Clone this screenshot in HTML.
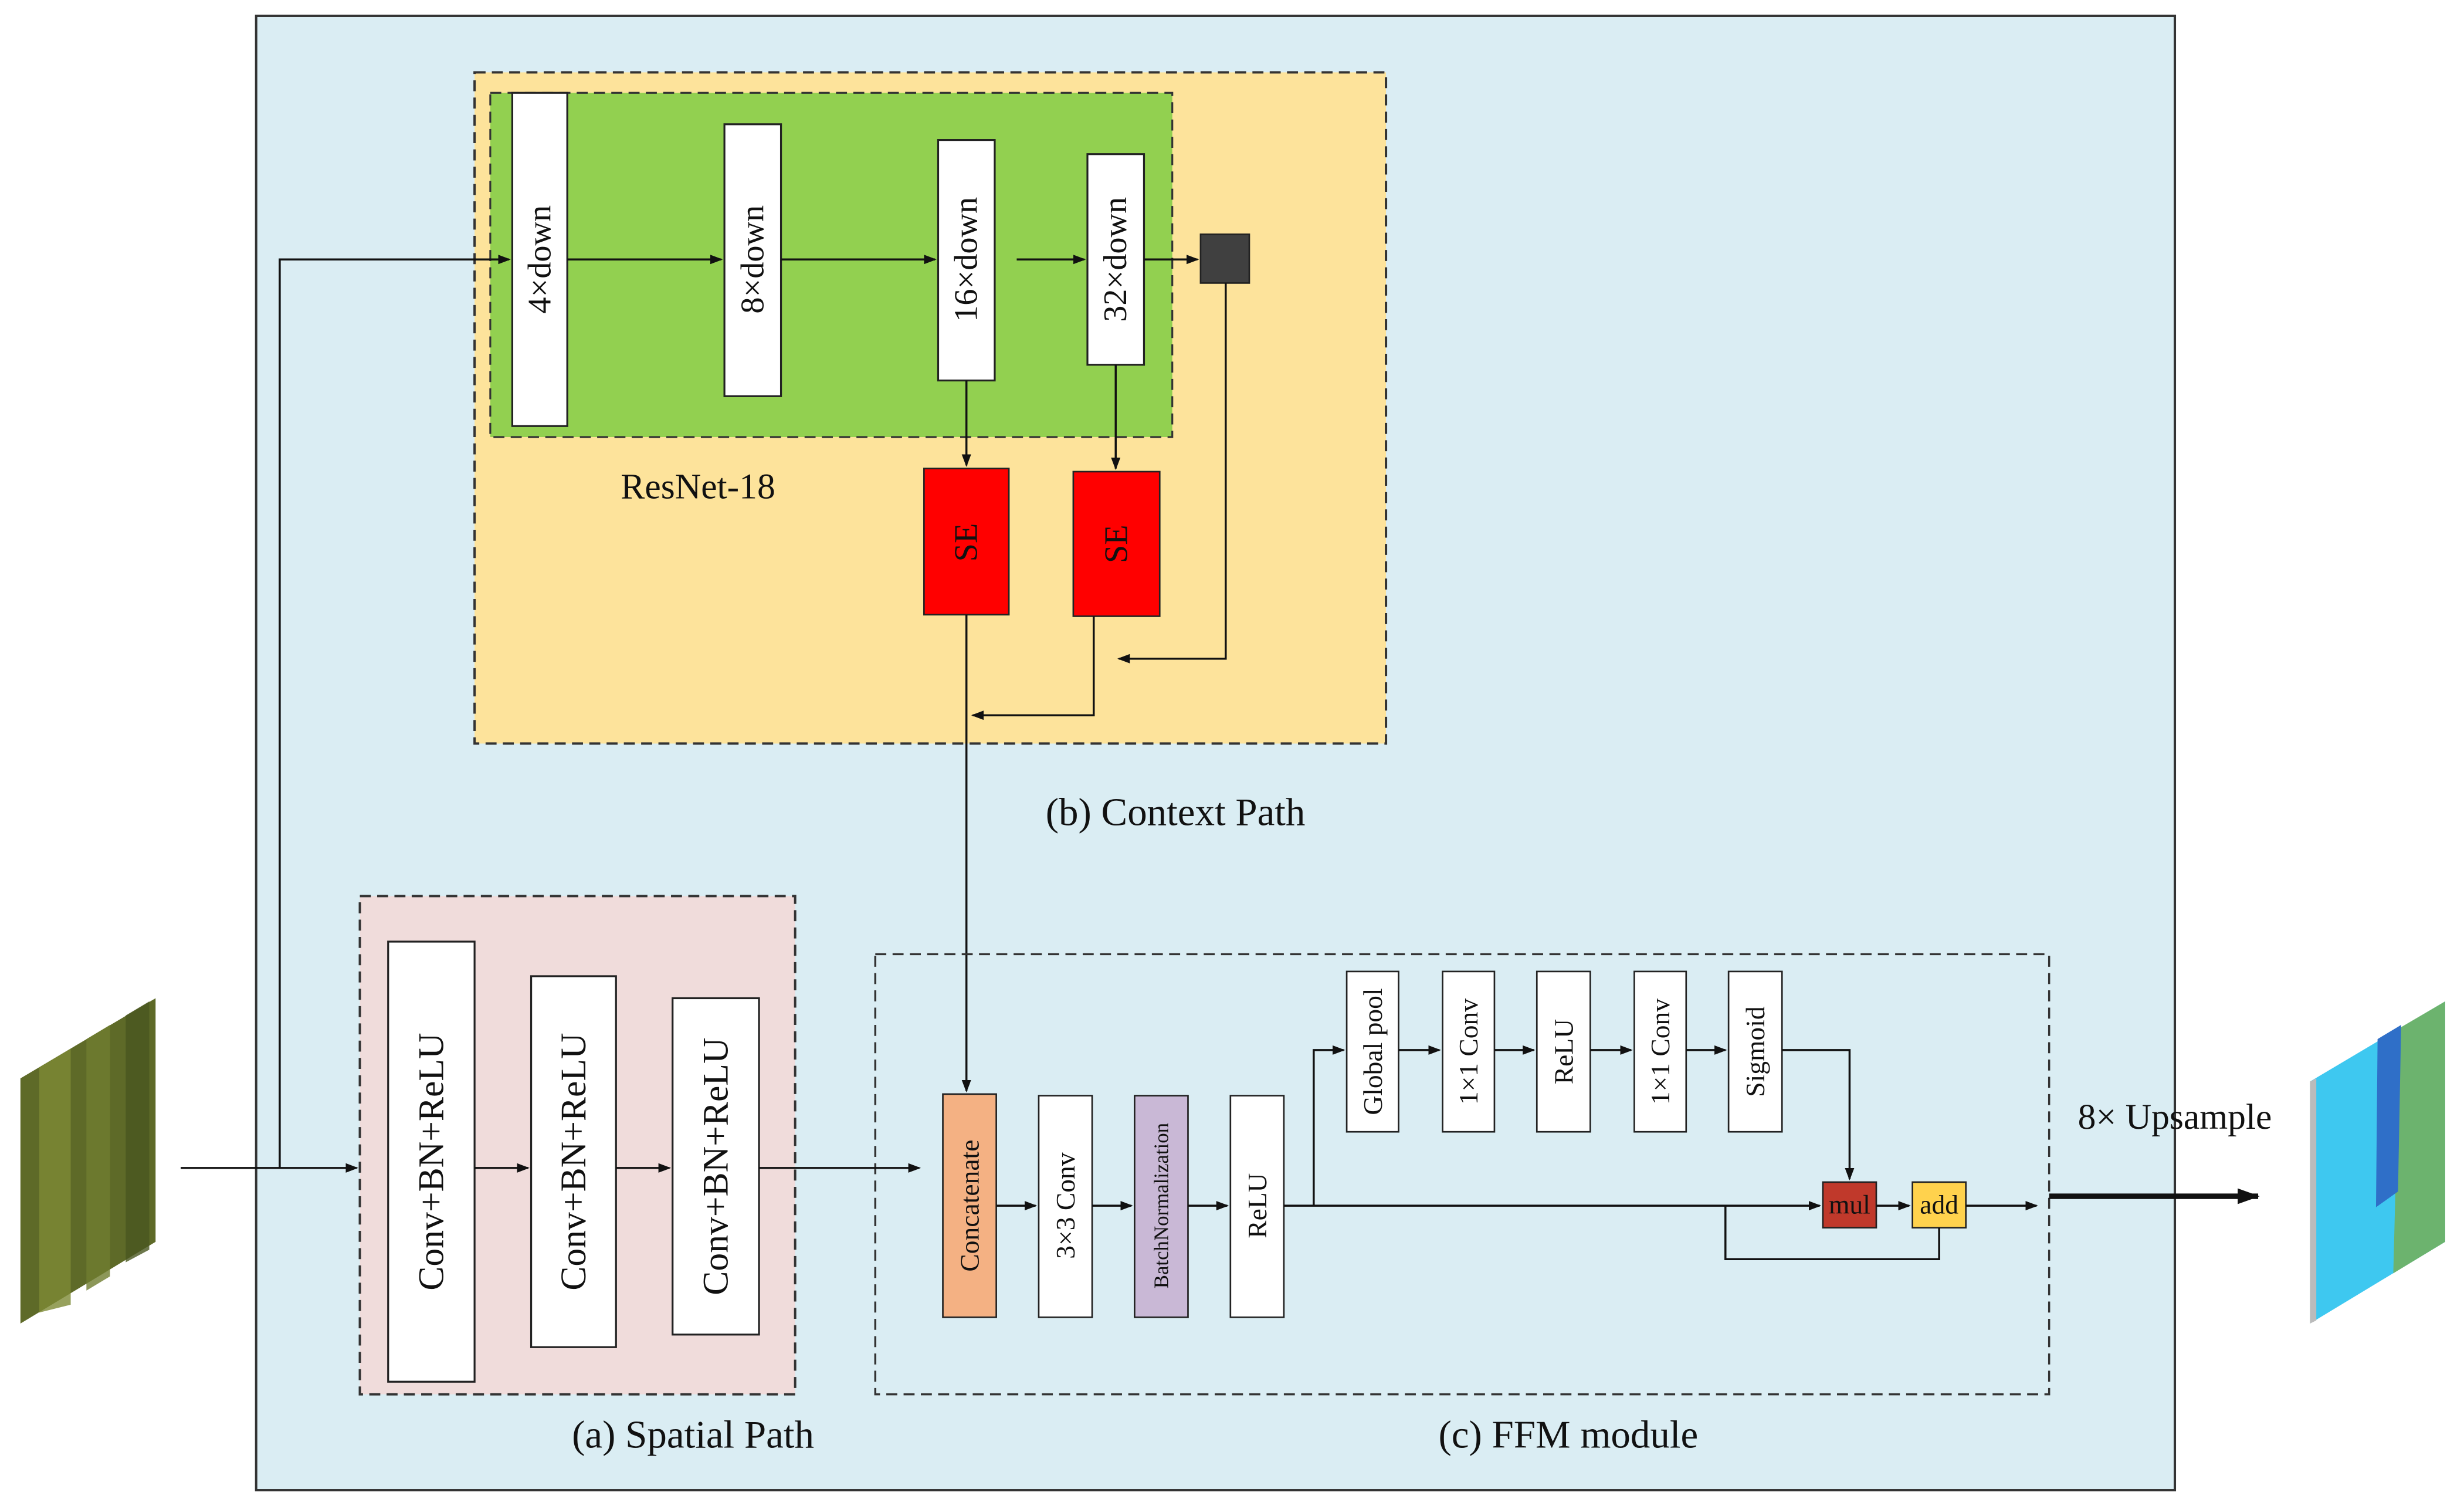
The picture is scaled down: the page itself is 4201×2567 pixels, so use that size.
<!DOCTYPE html>
<html><head><meta charset="utf-8"><style>
html,body{margin:0;padding:0;background:#fff;}
svg{display:block;}
text{font-family:"Liberation Serif",serif;fill:#111;}
</style></head><body>
<svg width="4201" height="2567" viewBox="0 0 1568 958" xmlns="http://www.w3.org/2000/svg">
<defs>
<marker id="a" markerWidth="8" markerHeight="8" refX="7" refY="4" orient="auto" markerUnits="userSpaceOnUse"><path d="M0,1 L8,4 L0,7 Z" fill="#111"/></marker>
<marker id="b" markerWidth="14" markerHeight="12" refX="13" refY="6" orient="auto" markerUnits="userSpaceOnUse"><path d="M0,1 L14,6 L0,11 Z" fill="#111"/></marker>
</defs>
<rect x="0" y="0" width="1568" height="958" fill="#fff"/>
<rect x="163" y="10" width="1221" height="938" fill="#daedf3" stroke="#333" stroke-width="1.5"/>
<rect x="302" y="46" width="580" height="427" fill="#fde39b" stroke="#333" stroke-width="1.5" stroke-dasharray="7,4"/>
<rect x="312" y="59" width="434" height="219" fill="#92d050" stroke="#333" stroke-width="1.2" stroke-dasharray="7,4"/>
<g fill="#fff" stroke="#222" stroke-width="1.2">
<rect x="326" y="59" width="35" height="212"/>
<rect x="461" y="79" width="36" height="173"/>
<rect x="597" y="89" width="36" height="153"/>
<rect x="692" y="98" width="36" height="134"/>
</g>
<rect x="764" y="149" width="31" height="31" fill="#404040" stroke="#222"/>
<g font-size="21">
<text transform="translate(343.5,165) rotate(-90)" text-anchor="middle" dominant-baseline="central">4×down</text>
<text transform="translate(479,165) rotate(-90)" text-anchor="middle" dominant-baseline="central">8×down</text>
<text transform="translate(615,165) rotate(-90)" text-anchor="middle" dominant-baseline="central">16×down</text>
<text transform="translate(710,165) rotate(-90)" text-anchor="middle" dominant-baseline="central">32×down</text>
</g>
<rect x="588" y="298" width="54" height="93" fill="#ff0000" stroke="#222"/>
<rect x="683" y="300" width="55" height="92" fill="#ff0000" stroke="#222"/>
<text transform="translate(615,345) rotate(-90)" text-anchor="middle" dominant-baseline="central" font-size="21">SE</text>
<text transform="translate(710.5,346) rotate(-90)" text-anchor="middle" dominant-baseline="central" font-size="21">SE</text>
<text x="395" y="317" font-size="23">ResNet-18</text>
<text x="748" y="525" font-size="25" text-anchor="middle">(b) Context Path</text>

<g stroke="#111" stroke-width="1.3" fill="none">
<path d="M178,743 L178,165 L324,165" marker-end="url(#a)"/>
<path d="M361,165 L459,165" marker-end="url(#a)"/>
<path d="M497,165 L595,165" marker-end="url(#a)"/>
<path d="M647,165 L690,165" marker-end="url(#a)"/>
<path d="M728,165 L762,165" marker-end="url(#a)"/>
<path d="M615,242 L615,296" marker-end="url(#a)"/>
<path d="M710,232 L710,298" marker-end="url(#a)"/>
<path d="M780,180 L780,419 L712,419" marker-end="url(#a)"/>
<path d="M696,392 L696,455 L619,455" marker-end="url(#a)"/>
<path d="M615,391 L615,694" marker-end="url(#a)"/>
</g>

<rect x="229" y="570" width="277" height="317" fill="#f0dcdb" stroke="#333" stroke-width="1.5" stroke-dasharray="7,4"/>
<g fill="#fff" stroke="#222" stroke-width="1.2">
<rect x="247" y="599" width="55" height="280"/>
<rect x="338" y="621" width="54" height="236"/>
<rect x="428" y="635" width="55" height="214"/>
</g>
<g font-size="23">
<text transform="translate(274.5,739) rotate(-90)" text-anchor="middle" dominant-baseline="central">Conv+BN+ReLU</text>
<text transform="translate(365,739) rotate(-90)" text-anchor="middle" dominant-baseline="central">Conv+BN+ReLU</text>
<text transform="translate(455.5,742) rotate(-90)" text-anchor="middle" dominant-baseline="central">Conv+BN+ReLU</text>
</g>
<text x="441" y="921" font-size="25" text-anchor="middle">(a) Spatial Path</text>

<rect x="557" y="607" width="747" height="280" fill="none" stroke="#333" stroke-width="1.3" stroke-dasharray="7,4"/>
<rect x="600" y="696" width="34" height="142" fill="#f4b183" stroke="#222"/>
<rect x="661" y="697" width="34" height="141" fill="#fff" stroke="#222"/>
<rect x="722" y="697" width="34" height="141" fill="#c9b8d6" stroke="#222"/>
<rect x="783" y="697" width="34" height="141" fill="#fff" stroke="#222"/>
<g fill="#fff" stroke="#222">
<rect x="857" y="618" width="33" height="102"/>
<rect x="918" y="618" width="33" height="102"/>
<rect x="978" y="618" width="34" height="102"/>
<rect x="1040" y="618" width="33" height="102"/>
<rect x="1100" y="618" width="34" height="102"/>
</g>
<rect x="1160" y="752" width="34" height="29" fill="#c0392b" stroke="#222"/>
<rect x="1217" y="752" width="34" height="29" fill="#ffd24d" stroke="#222"/>
<g font-size="17">
<text transform="translate(617,767) rotate(-90)" text-anchor="middle" dominant-baseline="central" fill="#fff">Concatenate</text>
<text transform="translate(678,767) rotate(-90)" text-anchor="middle" dominant-baseline="central">3×3 Conv</text>
<text transform="translate(739,767) rotate(-90)" text-anchor="middle" dominant-baseline="central" font-size="13">BatchNormalization</text>
<text transform="translate(800,767) rotate(-90)" text-anchor="middle" dominant-baseline="central">ReLU</text>
<text transform="translate(873.5,669) rotate(-90)" text-anchor="middle" dominant-baseline="central">Global pool</text>
<text transform="translate(934.5,669) rotate(-90)" text-anchor="middle" dominant-baseline="central">1×1 Conv</text>
<text transform="translate(995,669) rotate(-90)" text-anchor="middle" dominant-baseline="central">ReLU</text>
<text transform="translate(1056.5,669) rotate(-90)" text-anchor="middle" dominant-baseline="central">1×1 Conv</text>
<text transform="translate(1117,669) rotate(-90)" text-anchor="middle" dominant-baseline="central">Sigmoid</text>
<text x="1177" y="772" text-anchor="middle">mul</text>
<text x="1234" y="772" text-anchor="middle">add</text>
</g>
<g stroke="#111" stroke-width="1.3" fill="none">
<path d="M115,743 L227,743" marker-end="url(#a)"/>
<path d="M302,743 L336,743" marker-end="url(#a)"/>
<path d="M392,743 L426,743" marker-end="url(#a)"/>
<path d="M483,743 L585,743" marker-end="url(#a)"/>
<path d="M634,767 L659,767" marker-end="url(#a)"/>
<path d="M695,767 L720,767" marker-end="url(#a)"/>
<path d="M756,767 L781,767" marker-end="url(#a)"/>
<path d="M817,767 L1158,767" marker-end="url(#a)"/>
<path d="M836,767 L836,668 L855,668" marker-end="url(#a)"/>
<path d="M890,668 L916,668" marker-end="url(#a)"/>
<path d="M951,668 L976,668" marker-end="url(#a)"/>
<path d="M1012,668 L1038,668" marker-end="url(#a)"/>
<path d="M1073,668 L1098,668" marker-end="url(#a)"/>
<path d="M1134,668 L1177,668 L1177,750" marker-end="url(#a)"/>
<path d="M1194,767 L1215,767" marker-end="url(#a)"/>
<path d="M1098,767 L1098,801 L1234,801 L1234,781"/>
<path d="M1251,767 L1296,767" marker-end="url(#a)"/>
</g>
<path d="M1304,761 L1437,761" stroke="#111" stroke-width="3.5" marker-end="url(#b)"/>
<text x="1384" y="718" font-size="23" text-anchor="middle">8×  Upsample</text>
<text x="998" y="921" font-size="25" text-anchor="middle">(c) FFM module</text>

<polygon points="13,686 99,635 99,790 13,842" fill="#5e6a28"/>
<polygon points="25,679 45,667 45,830 25,835" fill="#7d8a34" opacity="0.8"/>
<polygon points="55,661 70,652 70,812 55,821" fill="#6f7d30" opacity="0.8"/>
<polygon points="80,646 95,637 95,795 80,803" fill="#48561f" opacity="0.8"/>
<polygon points="1470,688 1556,637 1556,790 1470,842" fill="#3ec8f0"/>
<polygon points="1527,654 1556,637 1556,790 1523,810" fill="#6cb36e"/>
<polygon points="1513,661 1528,652 1526,758 1512,768" fill="#2f6fc8"/>
<polygon points="1470,688 1474,686 1474,840 1470,842" fill="#bbb"/>
</svg>
</body></html>
